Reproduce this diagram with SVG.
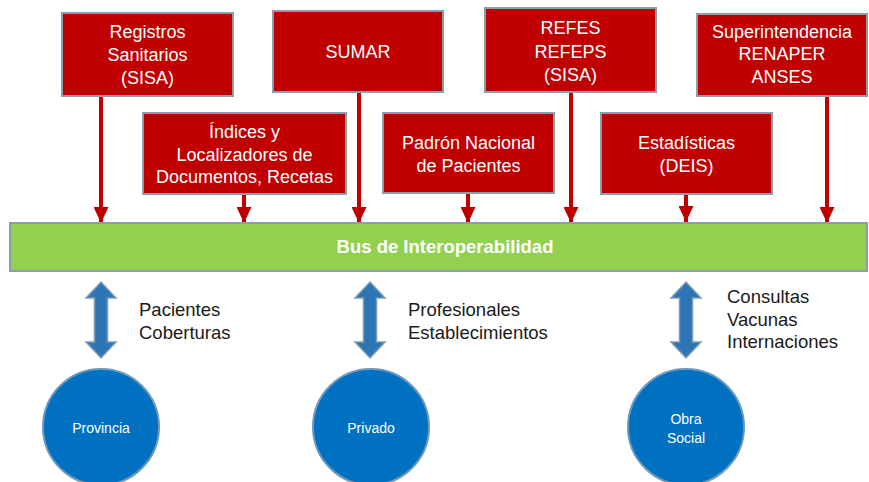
<svg xmlns="http://www.w3.org/2000/svg" width="869" height="482" viewBox="0 0 869 482">
<defs>
<style>
.box{fill:#c00000;stroke:#8e9ea9;stroke-width:2}
.bt{font-family:"Liberation Sans",Arial,sans-serif;font-size:18px;fill:#ffffff;text-anchor:middle}
.bus{fill:#92d050;stroke:#8e9ea9;stroke-width:2}
.bust{font-family:"Liberation Sans",Arial,sans-serif;font-size:18.5px;font-weight:bold;fill:#ffffff;text-anchor:middle}
.red{stroke:#c00000;stroke-width:4;fill:none;marker-end:url(#ah)}
.dbl{fill:#2e75b6;stroke:#7f9cb6;stroke-width:1.5}
.lbl{font-family:"Liberation Sans",Arial,sans-serif;font-size:18.5px;fill:#1a1a1a}
.circ{fill:#0070c0;stroke:#6c98bd;stroke-width:2}
.ct{font-family:"Liberation Sans",Arial,sans-serif;font-size:14px;fill:#ffffff;text-anchor:middle}
</style>
<marker id="ah" markerUnits="userSpaceOnUse" markerWidth="16" markerHeight="15" refX="16" refY="7.5" orient="auto">
<path d="M0,0 L16,7.5 L0,15 Z" fill="#c00000"/>
</marker>
</defs>
<rect width="869" height="482" fill="#ffffff"/>
<g id="connectors">
<line class="red" x1="101" y1="96" x2="101" y2="223"/>
<line class="red" x1="244" y1="194" x2="244" y2="223"/>
<line class="red" x1="359" y1="92" x2="359" y2="223"/>
<line class="red" x1="468" y1="193" x2="468" y2="223"/>
<line class="red" x1="571" y1="92" x2="571" y2="223"/>
<line class="red" x1="686" y1="194" x2="686" y2="222"/>
<line class="red" x1="827" y1="96" x2="827" y2="223"/>
<path class="dbl" d="M101,282 L116,298 L107.5,298 L107.5,342 L116,342 L101,358 L86,342 L94.5,342 L94.5,298 L86,298 Z"/>
<path class="dbl" d="M370,282 L385,298 L376.5,298 L376.5,342 L385,342 L370,358 L355,342 L363.5,342 L363.5,298 L355,298 Z"/>
<path class="dbl" d="M686,282 L701,298 L692.5,298 L692.5,342 L701,342 L686,358 L671,342 L679.5,342 L679.5,298 L671,298 Z"/>
</g>
<g id="registros">
<rect class="box" x="62" y="13" width="171" height="83"/>
<text class="bt" x="147.5" y="38">Registros</text>
<text class="bt" x="147.5" y="61">Sanitarios</text>
<text class="bt" x="147.5" y="84">(SISA)</text>
</g>
<g id="sumar">
<rect class="box" x="273" y="11" width="170" height="81"/>
<text class="bt" x="358" y="58">SUMAR</text>
</g>
<g id="refes">
<rect class="box" x="485" y="8" width="171" height="84"/>
<text class="bt" x="570.5" y="34">REFES</text>
<text class="bt" x="570.5" y="58">REFEPS</text>
<text class="bt" x="570.5" y="81">(SISA)</text>
</g>
<g id="superintendencia">
<rect class="box" x="697" y="14" width="170" height="82"/>
<text class="bt" x="782" y="38">Superintendencia</text>
<text class="bt" x="782" y="60">RENAPER</text>
<text class="bt" x="782" y="83">ANSES</text>
</g>
<g id="indices">
<rect class="box" x="143" y="113" width="203" height="81"/>
<text class="bt" x="244.5" y="138">Índices y</text>
<text class="bt" x="244.5" y="161">Localizadores de</text>
<text class="bt" x="244.5" y="183">Documentos, Recetas</text>
</g>
<g id="padron">
<rect class="box" x="383" y="113" width="171" height="80"/>
<text class="bt" x="468.5" y="149">Padrón Nacional</text>
<text class="bt" x="468.5" y="172">de Pacientes</text>
</g>
<g id="estadisticas">
<rect class="box" x="601" y="113" width="171" height="81"/>
<text class="bt" x="686.5" y="149">Estadísticas</text>
<text class="bt" x="686.5" y="172">(DEIS)</text>
</g>
<g id="bus">
<rect class="bus" x="10" y="223" width="857" height="48"/>
<text class="bust" x="445" y="253">Bus de Interoperabilidad</text>
</g>
<g id="labels">
<text class="lbl" x="139" y="316">Pacientes</text>
<text class="lbl" x="139" y="339">Coberturas</text>
<text class="lbl" x="408" y="316">Profesionales</text>
<text class="lbl" x="408" y="339">Establecimientos</text>
<text class="lbl" x="727" y="303">Consultas</text>
<text class="lbl" x="727" y="326">Vacunas</text>
<text class="lbl" x="727" y="348">Internaciones</text>
</g>
<g id="provincia">
<circle class="circ" cx="101" cy="427" r="58"/>
<text class="ct" x="101" y="433">Provincia</text>
</g>
<g id="privado">
<circle class="circ" cx="371" cy="427" r="58"/>
<text class="ct" x="371" y="433">Privado</text>
</g>
<g id="obrasocial">
<circle class="circ" cx="686" cy="427" r="58"/>
<text class="ct" x="686" y="424">Obra</text>
<text class="ct" x="686" y="443">Social</text>
</g>
</svg>
